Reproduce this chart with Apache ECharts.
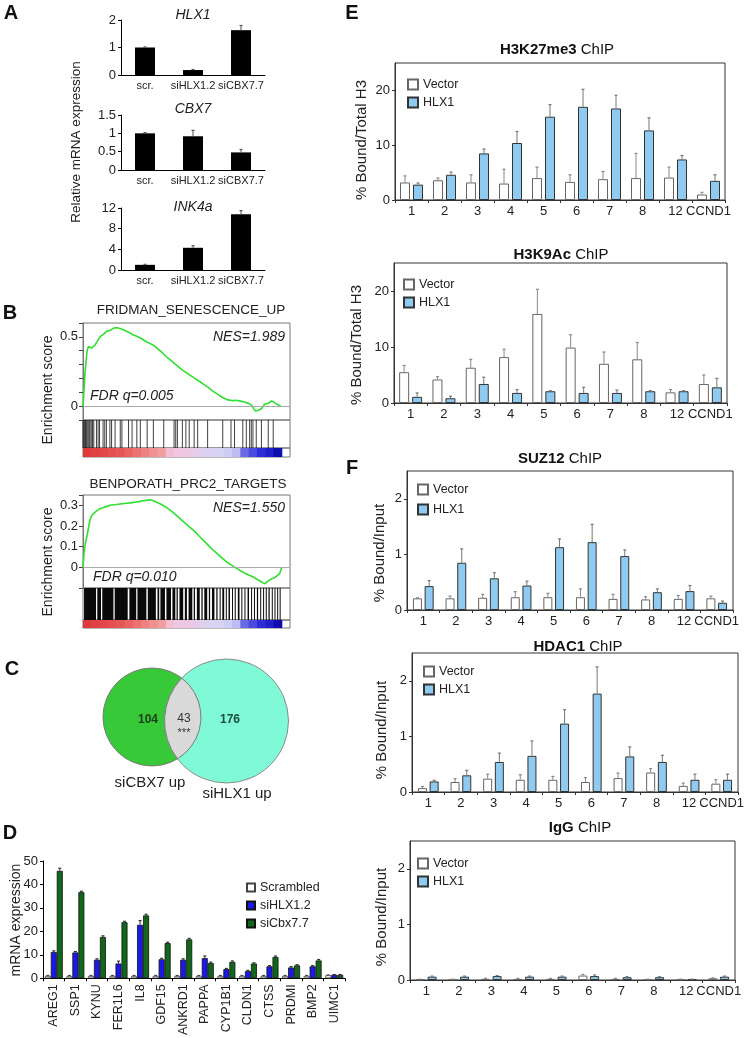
<!DOCTYPE html>
<html><head><meta charset="utf-8">
<script src="https://cdn.jsdelivr.net/npm/echarts@6/dist/echarts.min.js"></script>
<style>html,body{margin:0;padding:0;background:#fff}#c{width:754px;height:1038px}</style>
</head><body><div id="c"></div>
<script>
const FONT = '"Liberation Sans", Arial, Helvetica, sans-serif';

// ---------- Panel A ----------
const aCats = ['scr.', 'siHLX1.2', 'siCBX7.7'];
const aHLX1 = [1.0, 0.18, 1.63];
const aHLX1Err = [0.02, 0.02, 0.17];
const aCBX7 = [1.0, 0.92, 0.48];
const aCBX7Err = [0.02, 0.16, 0.08];
const aINK4a = [1.0, 4.3, 10.8];
const aINK4aErr = [0.1, 0.4, 0.7];

// ---------- Panel B (GSEA) ----------
const gsea1Curve = [[0,0],[0.5,0.12],[1,0.24],[1.5,0.33],[2,0.40],[2.6,0.43],[3.4,0.44],[4.2,0.42],[5,0.43],[5.8,0.44],[6.6,0.46],[7.4,0.48],[8.2,0.50],[9,0.51],[10,0.52],[11.4,0.54],[12.5,0.545],[13.5,0.55],[14.5,0.56],[15.5,0.565],[16.5,0.566],[17.9,0.56],[19.5,0.552],[21,0.54],[22.5,0.53],[24,0.515],[26,0.505],[28,0.49],[30,0.47],[32,0.455],[34,0.44],[36,0.415],[38,0.39],[40,0.36],[42,0.335],[44,0.31],[46,0.285],[48,0.26],[50,0.24],[52,0.22],[54,0.2],[56.5,0.176],[58.5,0.155],[60.5,0.135],[62.5,0.11],[64.6,0.09],[66.5,0.07],[68.5,0.055],[70,0.045],[71,0.043],[72.5,0.04],[74,0.042],[76,0.036],[78,0.03],[80,0.02],[81.5,0.005],[82.5,-0.02],[83.3,-0.035],[84,-0.04],[84.8,-0.03],[85.5,-0.028],[86.3,-0.017],[87,-0.01],[87.8,0.015],[88.7,0.024],[89.5,0.02],[90.3,0.03],[91.2,0.038],[92,0.03],[92.8,0.022],[93.6,0.014],[94.5,0.008],[95.5,0.0]];
const gsea2Curve = [[0,0],[0.5,0.07],[1.2,0.12],[2.1,0.16],[2.8,0.2],[3.4,0.23],[4.2,0.25],[5,0.26],[6.5,0.272],[8.2,0.284],[10,0.29],[11.5,0.295],[13,0.30],[15,0.303],[17,0.305],[19,0.308],[21,0.31],[23,0.312],[25,0.315],[27,0.318],[29,0.322],[30.5,0.324],[32.4,0.327],[34,0.322],[35.5,0.315],[37.2,0.308],[39,0.298],[41,0.285],[43,0.27],[45.3,0.25],[47.5,0.23],[49.5,0.213],[51.5,0.195],[53.3,0.18],[55.5,0.158],[57.5,0.137],[59.5,0.117],[61.4,0.098],[63.5,0.078],[65.5,0.06],[67.5,0.042],[69.4,0.026],[71.5,0.012],[73.5,0.0],[75.8,-0.015],[78,-0.027],[80,-0.037],[82.3,-0.047],[84,-0.058],[85.5,-0.066],[86.8,-0.074],[87.9,-0.079],[88.8,-0.073],[89.8,-0.063],[91.2,-0.055],[92.5,-0.05],[93.5,-0.043],[94.4,-0.04],[95,-0.03],[95.5,-0.015],[96,0.0]];
const gsea1Hits = [0,0.4,0.8,1.2,1.6,2.0,2.5,3.0,3.4,4.0,4.6,5.2,6.5,7.3,8.0,9.7,10.5,11.3,13.0,13.8,15.5,18.0,18.8,22.0,23.7,26.0,27.7,31.0,34.0,39.0,44.0,44.8,45.6,48.0,49.7,51.3,53.7,55.4,60.2,67.5,71.5,73.2,77.2,78.9,80.5,81.3,82.1,83.7,86.2,89.5,91.9];
const gsea2HitBlocks = [[0.5,6.3],[6.9,8.7],[9.3,14.7],[15.3,21.6],[22.4,25.7],[26.3,30.6],[31.3,35.2],[36,36.8],[37.4,39.6],[40.3,42.5],[43.2,44.6],[45.2,45.8],[46.6,48.4],[49.2,50.2],[51,52.8],[53.5,54.1],[55,56.4],[57.2,57.8],[58.6,60],[60.8,61.4],[62.3,63.5],[64.4,65],[66,66.5],[67.3,68.2],[69,69.4],[70.3,71],[72,72.4],[73.3,73.8],[74.8,75.6],[76.5,76.9],[78,78.4],[79.5,80.2],[81.2,81.6],[82.6,83],[84,84.6],[85.6,86],[87,87.4],[88.3,88.7],[89.6,90.2],[91.2,91.6],[92.5,92.9],[93.8,94.2],[95,95.4]];
const rankMetric = [3.0,2.8,2.6,2.4,2.2,2.0,1.8,1.6,1.4,1.2,0.6,0.4,0.3,0.1,-0.2,-0.3,-0.4,-0.5,-0.7,-1.6,-1.9,-2.2,-2.5,-2.9];
const rankStep = 4; // percent of ranked list per metric segment

// ---------- Panel C (Venn) ----------
const vennSets = ['siCBX7 up', 'siHLX1 up'];
const vennOnly = [104, 176];
const vennBoth = 43;

// ---------- Panel D ----------
const dCats = ['AREG1','SSP1','KYNU','FER1L6','IL8','GDF15','ANKRD1','PAPPA','CYP1B1','CLDN1','CTSS','PRDMI','BMP2','UIMC1'];
const dScr = [1,1,1,1,1,1,1,1,1,1,1,1,1,1.3];
const dScrErr = [0.2,0.2,0.2,0.2,0.2,0.2,0.2,0.2,0.2,0.2,0.2,0.2,0.2,0.1];
const dHlx = [11.2,11.0,7.9,6.3,22.8,8.1,7.9,8.6,3.9,3.1,5.1,4.6,5.1,1.5];
const dHlxErr = [0.5,0.4,0.4,1.0,1.8,0.4,0.4,0.9,0.3,0.3,0.3,0.4,0.3,0.1];
const dCbx = [45.8,36.7,17.6,23.9,26.8,15.0,16.6,6.5,7.0,6.3,9.1,5.5,7.6,1.5];
const dCbxErr = [1.1,0.4,0.5,0.4,0.5,0.4,0.4,0.4,0.4,0.3,0.4,0.3,0.4,0.1];

// ---------- Panels E / F ----------
const eCats = ['1','2','3','4','5','6','7','8','12','CCND1'];
const k27Vec = [3.2,3.6,3.2,3.0,4.0,3.3,3.8,4.0,4.1,1.0];
const k27VecErr = [1.2,0.4,1.4,2.6,2.0,1.3,1.4,4.5,1.9,0.4];
const k27Hlx = [2.8,4.6,8.5,10.4,15.2,17.0,16.7,12.7,7.4,3.5];
const k27HlxErr = [0.3,0.5,0.8,2.1,2.2,3.2,2.4,2.3,0.7,1.1];
const k9Vec = [5.5,4.2,6.3,8.2,15.9,9.9,7.0,7.8,1.9,3.4];
const k9VecErr = [1.2,0.5,1.5,1.4,4.4,2.3,2.1,3.0,0.5,1.6];
const k9Hlx = [1.1,0.85,3.4,1.8,2.1,1.8,1.8,2.1,2.1,2.8];
const k9HlxErr = [0.7,0.35,1.2,0.6,0.1,1.0,0.5,0.1,0.1,1.6];
const suzVec = [0.21,0.21,0.22,0.23,0.23,0.23,0.2,0.19,0.2,0.21];
const suzVecErr = [0.01,0.04,0.06,0.1,0.07,0.15,0.08,0.05,0.06,0.04];
const suzHlx = [0.43,0.85,0.57,0.44,1.13,1.22,0.97,0.32,0.34,0.13];
const suzHlxErr = [0.1,0.25,0.1,0.08,0.15,0.32,0.11,0.06,0.1,0.03];
const hdVec = [0.07,0.18,0.24,0.22,0.22,0.18,0.25,0.35,0.11,0.15];
const hdVecErr = [0.03,0.06,0.08,0.09,0.06,0.08,0.09,0.07,0.05,0.07];
const hdHlx = [0.19,0.3,0.54,0.65,1.23,1.77,0.64,0.54,0.22,0.22];
const hdHlxErr = [0.02,0.09,0.16,0.27,0.25,0.48,0.17,0.12,0.1,0.1];
const igVec = [0.01,0.01,0.02,0.02,0.02,0.08,0.02,0.01,0.01,0.03];
const igVecErr = [0.005,0.005,0.01,0.01,0.01,0.02,0.01,0.005,0.005,0.01];
const igHlx = [0.06,0.06,0.07,0.06,0.06,0.07,0.05,0.05,0.01,0.06];
const igHlxErr = [0.01,0.01,0.01,0.01,0.01,0.02,0.01,0.01,0.005,0.01];

// ================= build =================
const TXT = '#222';
const grids = [
  {left:121, top:20, width:144, height:55},   //0 A HLX1
  {left:121, top:115, width:144, height:55},  //1 A CBX7
  {left:121, top:208, width:144, height:62},  //2 A INK4a
  {left:83, top:323, width:207, height:97, show:true, borderColor:'#777'}, //3 B1 curve
  {left:83, top:420, width:207, height:28, show:true, borderColor:'#777'}, //4 B1 hits
  {left:83, top:448, width:207, height:9, show:true, borderColor:'#777'},  //5 B1 metric
  {left:83, top:495, width:207, height:93, show:true, borderColor:'#777'}, //6 B2 curve
  {left:83, top:588, width:207, height:32, show:true, borderColor:'#777'}, //7 B2 hits
  {left:83, top:620, width:207, height:8, show:true, borderColor:'#777'},  //8 B2 metric
  {left:43, top:861, width:302, height:118},  //9 D
  {left:395, top:63, width:330, height:137, show:true, borderColor:'#333'},  //10 E1
  {left:394, top:263, width:333, height:140, show:true, borderColor:'#333'}, //11 E2
  {left:407, top:471, width:326, height:139, show:true, borderColor:'#333'}, //12 F1
  {left:412, top:653, width:326, height:139, show:true, borderColor:'#333'}, //13 F2
  {left:410, top:841, width:325, height:139, show:true, borderColor:'#333'}, //14 F3
];

const xAxes = [], yAxes = [], series = [];
const lblBase = {color:TXT, fontFamily:FONT};

function errBars(gi, vals, errs, off, color){
  return {type:'custom', xAxisIndex:gi, yAxisIndex:gi, z:5, silent:true,
    data: vals.map((v,i)=>[i, v, v+errs[i]]),
    encode:{x:0, y:[1,2]},
    renderItem:(p, api)=>{
      const a = api.coord([api.value(0), api.value(1)]);
      const b = api.coord([api.value(0), api.value(2)]);
      const x = a[0] + off;
      return {type:'group', children:[
        {type:'line', shape:{x1:x, y1:a[1], x2:x, y2:b[1]}, style:{stroke:color, lineWidth:1}},
        {type:'line', shape:{x1:x-1.5, y1:b[1], x2:x+1.5, y2:b[1]}, style:{stroke:color, lineWidth:1.2}}
      ]};
    }};
}

// A
[[aHLX1,aHLX1Err,2,1],[aCBX7,aCBX7Err,1.5,0.5],[aINK4a,aINK4aErr,12,4]].forEach((d,i)=>{
  xAxes.push({type:'category', gridIndex:i, data:aCats, axisLine:{lineStyle:{color:'#000'}}, axisTick:{show:false},
    axisLabel:Object.assign({fontSize:11, interval:0, margin:5}, lblBase)});
  yAxes.push({type:'value', gridIndex:i, min:0, max:d[2], interval:d[3], axisLine:{show:true, lineStyle:{color:'#000'}},
    axisTick:{show:true, length:3, lineStyle:{color:'#000'}}, splitLine:{show:false},
    axisLabel:Object.assign({fontSize:13, margin:5}, lblBase)});
  series.push({type:'bar', xAxisIndex:i, yAxisIndex:i, data:d[0], barWidth:20, itemStyle:{color:'#000'}, silent:true});
  series.push(errBars(i, d[0], d[1], 0, '#555'));
});

// B
function gseaAxes(gCurve, ymax, labelSet){
  xAxes.push({type:'value', gridIndex:gCurve, min:0, max:100, show:false});
  yAxes.push({type:'value', gridIndex:gCurve, min:-0.1, max:ymax, interval:0.1,
    axisLine:{show:true, lineStyle:{color:'#777'}}, axisTick:{show:true, length:4, lineStyle:{color:'#444'}},
    splitLine:{show:false},
    axisLabel:Object.assign({fontSize:13, margin:5, formatter:v=>{
      const r = Math.round(v*10)/10; return (Math.abs(v-r)<1e-6 && labelSet.indexOf(r)>=0) ? String(r) : '';}}, lblBase)});
  for (let k=1;k<=2;k++){
    xAxes.push({type:'value', gridIndex:gCurve+k, min:0, max:100, show:false});
    yAxes.push({type:'value', gridIndex:gCurve+k, min:0, max:1, show:false});
  }
}
gseaAxes(3, 0.6, [0, 0.5]);
gseaAxes(6, 0.35, [0, 0.1, 0.2, 0.3]);

function curveSeries(gi, data){
  return {type:'line', xAxisIndex:gi, yAxisIndex:gi, data:data, showSymbol:false, silent:true,
    lineStyle:{color:'#2fe02f', width:1.6}, itemStyle:{color:'#2fe02f'},
    markLine:{silent:true, symbol:'none', label:{show:false}, lineStyle:{color:'#aaa', type:'solid', width:1}, data:[{yAxis:0}]}};
}
function hitLines(gi, hits){
  return {type:'custom', xAxisIndex:gi, yAxisIndex:gi, silent:true, data:hits.map(h=>[h]),
    renderItem:(p, api)=>{
      const a = api.coord([api.value(0), 0]), b = api.coord([api.value(0), 1]);
      return {type:'line', shape:{x1:a[0], y1:a[1], x2:b[0], y2:b[1]}, style:{stroke:'#111', lineWidth:1, opacity:0.8}};
    }};
}
function hitBlocks(gi, blocks){
  return {type:'custom', xAxisIndex:gi, yAxisIndex:gi, silent:true, data:blocks,
    renderItem:(p, api)=>{
      const a = api.coord([api.value(0), 1]), b = api.coord([api.value(1), 0]);
      return {type:'rect', shape:{x:a[0], y:a[1], width:Math.max(1,b[0]-a[0]), height:b[1]-a[1]}, style:{fill:'#0a0a0a'}};
    }};
}
function metricBar(gi){
  return {type:'custom', xAxisIndex:gi, yAxisIndex:gi, silent:true,
    data: rankMetric.map((m,i)=>[i*rankStep, (i+1)*rankStep, m]),
    renderItem:(p, api)=>{
      const a = api.coord([api.value(0), 1]), b = api.coord([api.value(1), 0]);
      return {type:'rect', shape:{x:a[0], y:a[1], width:b[0]-a[0]+0.6, height:b[1]-a[1]}, style:{fill:api.visual('color')}};
    }};
}
series.push(curveSeries(3, gsea1Curve));
series.push(hitLines(4, gsea1Hits));
const mb1 = series.length; series.push(metricBar(5));
series.push(curveSeries(6, gsea2Curve));
series.push(hitBlocks(7, gsea2HitBlocks));
const mb2 = series.length; series.push(metricBar(8));

// C Venn
const C1 = {x:152, y:717, r:49}, C2 = {x:226.5, y:721, r:62};
function lensPath(){
  const dx = C2.x-C1.x, dy = C2.y-C1.y, d = Math.hypot(dx,dy);
  const a = (C1.r*C1.r - C2.r*C2.r + d*d)/(2*d);
  const h = Math.sqrt(C1.r*C1.r - a*a);
  const bx = C1.x + a*dx/d, by = C1.y + a*dy/d;
  let p1 = [bx - h*dy/d, by + h*dx/d], p2 = [bx + h*dy/d, by - h*dx/d];
  if (p1[1] > p2[1]) { const t = p1; p1 = p2; p2 = t; }
  return `M ${p1[0]} ${p1[1]} A ${C1.r} ${C1.r} 0 0 1 ${p2[0]} ${p2[1]} A ${C2.r} ${C2.r} 0 0 1 ${p1[0]} ${p1[1]} Z`;
}
series.push({type:'custom', coordinateSystem:'none', silent:true,
  data:[{value:vennOnly[0]}, {value:vennOnly[1]}, {value:vennBoth}],
  renderItem:(p, api)=>{
    const i = p.dataIndex, v = api.value(0);
    const txt = (x,y,t,o)=>({type:'text', x:x, y:y, style:Object.assign({text:t, fontFamily:FONT, fontSize:12, fill:TXT, align:'center', verticalAlign:'middle'}, o||{})});
    if (i===0) return {type:'group', children:[
      {type:'circle', shape:{cx:C1.x, cy:C1.y, r:C1.r}, style:{fill:'#38c938', stroke:'#7a7a7a', lineWidth:1}},
      txt(148, 720, String(v), {fontWeight:'bold', fill:'#1c3d1c'}),
      txt(150, 783, vennSets[0], {fontSize:15})
    ]};
    if (i===1) return {type:'group', children:[
      {type:'circle', shape:{cx:C2.x, cy:C2.y, r:C2.r}, style:{fill:'#80fad6', stroke:'#8a8a8a', lineWidth:1}},
      txt(230, 720, String(v), {fontWeight:'bold', fill:'#1d4d40'}),
      txt(237, 794, vennSets[1], {fontSize:15})
    ]};
    return {type:'group', children:[
      {type:'path', shape:{pathData:lensPath()}, style:{fill:'#d9d9d9', stroke:'#7a7a7a', lineWidth:1}},
      txt(184, 719, String(v), {fill:'#333'}),
      txt(184, 733, '***', {fill:'#333', fontSize:11})
    ]};
  }});

// D
xAxes.push({type:'category', gridIndex:9, data:dCats, axisLine:{lineStyle:{color:'#000'}},
  axisTick:{show:true, length:3, lineStyle:{color:'#000'}},
  axisLabel:Object.assign({fontSize:12.5, interval:0, rotate:90, margin:6}, lblBase)});
yAxes.push({type:'value', gridIndex:9, min:0, max:50, interval:10, axisLine:{show:true, lineStyle:{color:'#000'}},
  axisTick:{show:true, length:3, lineStyle:{color:'#000'}}, splitLine:{show:false},
  axisLabel:Object.assign({fontSize:13, margin:5}, lblBase)});
[['Scrambled', dScr, dScrErr, '#ffffff', '#444'],
 ['siHLX1.2', dHlx, dHlxErr, '#1a1ae8', '#111'],
 ['siCbx7.7', dCbx, dCbxErr, '#12661c', '#111']].forEach(s=>{
  series.push({type:'bar', name:s[0], xAxisIndex:9, yAxisIndex:9, data:s[1], barWidth:6, barGap:'0%', silent:true,
    itemStyle:{color:s[3], borderColor:s[4], borderWidth:0.8}});
});
series.push(errBars(9, dScr, dScrErr, -6, '#444'));
series.push(errBars(9, dHlx, dHlxErr, 0, '#333'));
series.push(errBars(9, dCbx, dCbxErr, 6, '#333'));

// E / F
function chipChart(gi, max, interval, vec, vecErr, hlx, hlxErr, bw){
  xAxes.push({type:'category', gridIndex:gi, data:eCats, axisLine:{lineStyle:{color:'#333'}},
    axisTick:{show:true, length:3, lineStyle:{color:'#333'}},
    axisLabel:Object.assign({fontSize:13, interval:0, margin:5}, lblBase)});
  yAxes.push({type:'value', gridIndex:gi, min:0, max:max, interval:interval,
    axisLine:{show:true, lineStyle:{color:'#333'}}, axisTick:{show:true, length:3, lineStyle:{color:'#333'}},
    splitLine:{show:false}, axisLabel:Object.assign({fontSize:13, margin:5, showMaxLabel:false}, lblBase)});
  const gap = 0.3, off = (bw + gap*bw)/2;
  series.push({type:'bar', name:'Vector', xAxisIndex:gi, yAxisIndex:gi, data:vec, barWidth:bw, barGap:(gap*100)+'%', silent:true,
    itemStyle:{color:'#ffffff', borderColor:'#666', borderWidth:1}});
  series.push({type:'bar', name:'HLX1', xAxisIndex:gi, yAxisIndex:gi, data:hlx, barWidth:bw, barGap:(gap*100)+'%', silent:true,
    itemStyle:{color:'#8fcbf0', borderColor:'#333', borderWidth:1}});
  series.push(errBars(gi, vec, vecErr, -off, '#888'));
  series.push(errBars(gi, hlx, hlxErr, off, '#777'));
}
chipChart(10, 25, 10, k27Vec, k27VecErr, k27Hlx, k27HlxErr, 10);
chipChart(11, 25, 10, k9Vec, k9VecErr, k9Hlx, k9HlxErr, 10);
chipChart(12, 2.5, 1, suzVec, suzVecErr, suzHlx, suzHlxErr, 9);
chipChart(13, 2.5, 1, hdVec, hdVecErr, hdHlx, hdHlxErr, 9);
chipChart(14, 2.5, 1, igVec, igVecErr, igHlx, igHlxErr, 9);

const legTxt = {fontSize:12.5, fontFamily:FONT, color:TXT};
function chipLegend(left, top, gap){
  return {data:['Vector','HLX1'], orient:'vertical', left:left, top:top, itemWidth:10, itemHeight:10, itemGap:gap,
    padding:0, selectedMode:false, icon:'rect', textStyle:legTxt};
}
const legends = [
  {data:['Scrambled','siHLX1.2','siCbx7.7'], orient:'vertical', left:246, top:881, itemWidth:8, itemHeight:8, itemGap:5,
   padding:0, selectedMode:false, icon:'rect', textStyle:legTxt},
  chipLegend(407, 78, 5), chipLegend(403, 278, 5), chipLegend(417, 483, 7), chipLegend(423, 665, 5), chipLegend(417, 857, 5)
];

// free text
function T(x, y, text, o){
  return Object.assign({type:'text', x:x, y:y, silent:true,
    style:Object.assign({text:text, fontFamily:FONT, fontSize:12, fill:TXT, align:'center', verticalAlign:'middle'}, (o&&o.style)||{})},
    (o&&o.rot)?{rotation:Math.PI/2}:{});
}
const boldLetter = {style:{fontSize:20, fontWeight:'bold', fill:'#111'}};
const chipTitle = (x,y,b)=>({type:'text', x:x, y:y, silent:true, style:{text:'{b|'+b+'} ChIP', fontFamily:FONT, fontSize:15, fill:'#111', align:'center', verticalAlign:'middle', rich:{b:{fontWeight:'bold', fontSize:15, fontFamily:FONT, fill:'#111'}}}});
const graphics = [
  T(11, 13, 'A', boldLetter), T(10, 313, 'B', boldLetter), T(12, 669, 'C', boldLetter), T(10, 833, 'D', boldLetter),
  T(352, 13, 'E', boldLetter), T(352, 468, 'F', boldLetter),
  T(193, 15, 'HLX1', {style:{fontSize:14, fontStyle:'italic'}}),
  T(193, 109, 'CBX7', {style:{fontSize:14, fontStyle:'italic'}}),
  T(193, 207, 'INK4a', {style:{fontSize:14, fontStyle:'italic'}}),
  T(76, 142, 'Relative mRNA expression', {rot:true, style:{fontSize:13.5}}),
  T(191, 310, 'FRIDMAN_SENESCENCE_UP', {style:{fontSize:13.5}}),
  T(188, 484, 'BENPORATH_PRC2_TARGETS', {style:{fontSize:13.5}}),
  T(285, 337, 'NES=1.989', {style:{fontSize:14, fontStyle:'italic', align:'right'}}),
  T(90, 396, 'FDR q=0.005', {style:{fontSize:14, fontStyle:'italic', align:'left'}}),
  T(285, 508, 'NES=1.550', {style:{fontSize:14, fontStyle:'italic', align:'right'}}),
  T(93, 577, 'FDR q=0.010', {style:{fontSize:14, fontStyle:'italic', align:'left'}}),
  T(48, 390, 'Enrichment score', {rot:true, style:{fontSize:14}}),
  T(48, 562, 'Enrichment score', {rot:true, style:{fontSize:14}}),
  T(16, 920, 'mRNA expression', {rot:true, style:{fontSize:14}}),
  chipTitle(557, 50, 'H3K27me3'), chipTitle(561, 255, 'H3K9Ac'), chipTitle(560, 459, 'SUZ12'),
  chipTitle(578, 647, 'HDAC1'), chipTitle(580, 828, 'IgG'),
  T(362, 140, '% Bound/Total H3', {rot:true, style:{fontSize:15}}),
  T(357, 345, '% Bound/Total H3', {rot:true, style:{fontSize:15}}),
  T(380, 553, '% Bound/Input', {rot:true, style:{fontSize:15}}),
  T(382, 730, '% Bound/Input', {rot:true, style:{fontSize:15}}),
  T(382, 917, '% Bound/Input', {rot:true, style:{fontSize:15}}),
];

const option = {
  backgroundColor:'#ffffff',
  animation:false,
  textStyle:{fontFamily:FONT},
  grid:grids, xAxis:xAxes, yAxis:yAxes, series:series, legend:legends,
  visualMap:[{type:'continuous', show:false, seriesIndex:[mb1, mb2], dimension:2, min:-3, max:3,
    inRange:{color:['#0a0aa8','#3030dc','#8c8cec','#d4d4f6','#f3c6e0','#f19a9a','#e85858','#de3a3a']}}],
  graphic:{elements:graphics}
};
const chart = echarts.init(document.getElementById('c'), null, {renderer:'canvas', width:754, height:1038});
chart.setOption(option);
</script></body></html>
